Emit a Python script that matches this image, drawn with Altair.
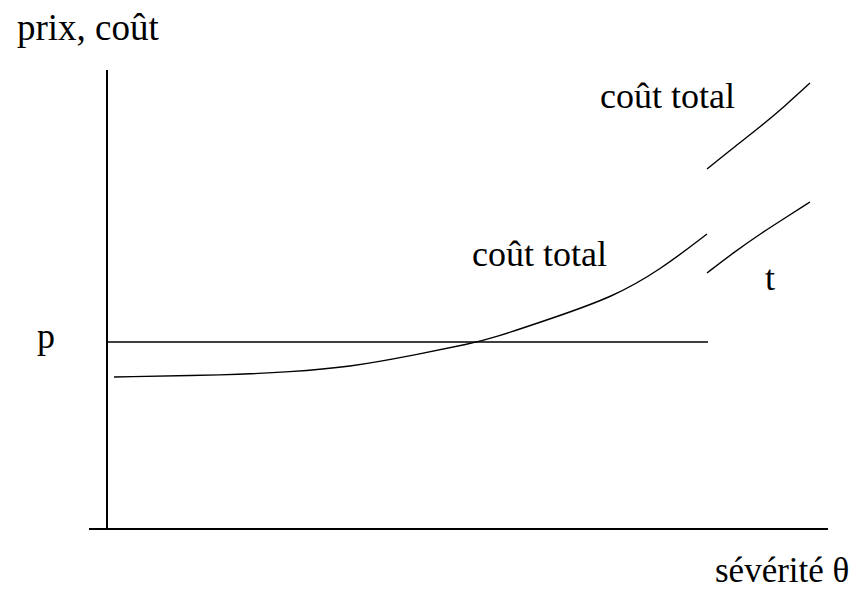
import altair as alt
import pandas as pd

# Values (in picture pixel units)
curve_x = [114, 228, 290, 350, 410, 473, 490, 553, 613, 660, 707]
curve_y = [377, 375, 372, 367, 356, 343, 339, 318, 297, 270, 234]
upper_x = [707, 733, 760, 785, 810]
upper_y = [169, 148, 127, 106, 83]
lower_x = [707, 733, 760, 785, 810]
lower_y = [273, 253, 234, 218, 202]

axis_x = [107, 89, 106]
axis_x2 = [107, 828, 708]
axis_y = [70, 529, 342]
axis_y2 = [529, 529, 342]
axis_w = [2, 2, 1.6]

labels = ["prix, coût", "coût total", "coût total", "t", "p", "sévérité θ"]
label_x = [17, 600, 472, 765, 37, 715]
label_y = [40, 108, 266, 290, 348, 582]
label_size = [37, 36, 36, 36, 36, 35]

W, H = 847, 584
OFF = 8

rows = []
for name, xs, ys in [("curve", curve_x, curve_y), ("upper", upper_x, upper_y), ("lower", lower_x, lower_y)]:
    for i, (a, b) in enumerate(zip(xs, ys)):
        rows.append({"seg": name, "i": i, "x": a, "y": b})
lines_df = pd.DataFrame(rows)

rules_df = pd.DataFrame({"x": axis_x, "x2": axis_x2, "y": axis_y, "y2": axis_y2, "w": axis_w})
text_df = pd.DataFrame({"label": labels, "x": label_x, "y": label_y, "s": label_size})

xs = alt.Scale(domain=[OFF, OFF + W], nice=False, zero=False)
ys = alt.Scale(domain=[OFF, OFF + H], nice=False, zero=False, reverse=True)

X = lambda f="x": alt.X(f"{f}:Q", scale=xs, axis=None)
Y = lambda f="y": alt.Y(f"{f}:Q", scale=ys, axis=None)

rules = alt.Chart(rules_df).mark_rule(color="black").encode(
    x=X(), x2="x2:Q", y=Y(), y2="y2:Q",
    strokeWidth=alt.StrokeWidth("w:Q", scale=None, legend=None),
)

curves = alt.Chart(lines_df).mark_line(color="black", strokeWidth=1.4, interpolate="basis").encode(
    x=X(), y=Y(), detail="seg:N", order="i:Q"
)

texts = alt.Chart(text_df).mark_text(
    align="left", baseline="alphabetic", font="Liberation Serif", color="black"
).encode(
    x=X(), y=Y(), text="label:N",
    size=alt.Size("s:Q", scale=None, legend=None),
)

chart = alt.layer(rules, curves, texts).properties(
    width=W, height=H, padding=0,
    autosize=alt.AutoSizeParams(type="none"),
).configure_view(stroke=None)

chart.save("out.html", embed_options={"renderer": "svg", "actions": False})
